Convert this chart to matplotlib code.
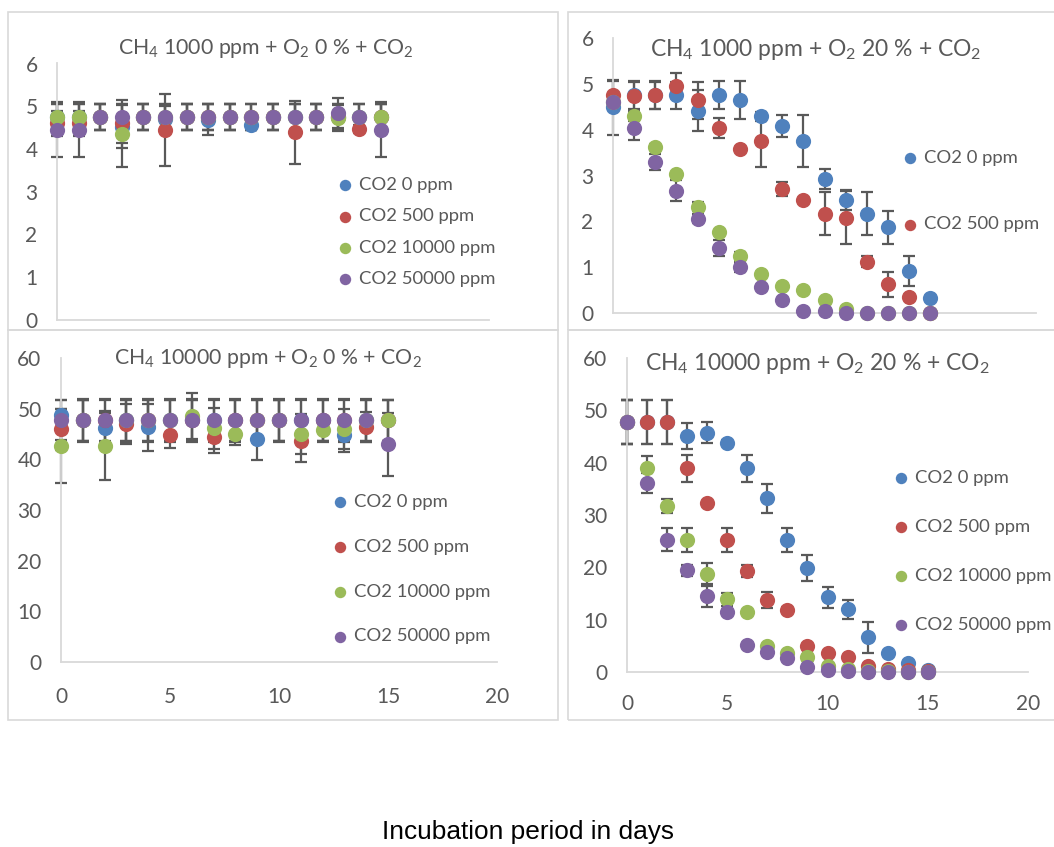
import matplotlib.pyplot as plt
from matplotlib.patches import Rectangle

plt.rcParams['font.family'] = ['Lato', 'DejaVu Sans']
plt.rcParams['mathtext.fontset'] = 'custom'
plt.rcParams['mathtext.rm'] = 'Lato'

days = list(range(16))
labels = ['CO2 0 ppm', 'CO2 500 ppm', 'CO2 10000 ppm', 'CO2 50000 ppm']
colors = ['#4F81BD', '#C0504D', '#9BBB59', '#8064A2']

# CH4 1000 ppm + O2 0 %
a_blue = [4.75, 4.75, 4.75, 4.52, 4.75, 4.70, 4.75, 4.69, 4.75, 4.56, 4.75, 4.75, 4.75, 4.75, 4.75, 4.75]
a_blue_err = [0.3, 0.3, 0.3, 0.5, 0.3, 0.3, 0.3, 0.36, 0.3, 0.1, 0.3, 0.3, 0.3, 0.3, 0.3, 0.3]
a_red = [4.6, 4.6, 4.75, 4.6, 4.75, 4.44, 4.75, 4.75, 4.75, 4.75, 4.75, 4.39, 4.75, 4.75, 4.47, 4.75]
a_red_err = [0.3, 0.3, 0.3, 0.45, 0.3, 0.84, 0.3, 0.3, 0.3, 0.3, 0.3, 0.74, 0.3, 0.3, 0.1, 0.3]
a_green = [4.75, 4.75, 4.75, 4.36, 4.75, 4.75, 4.75, 4.75, 4.75, 4.75, 4.75, 4.75, 4.75, 4.72, 4.75, 4.75]
a_green_err = [0.3, 0.3, 0.3, 0.79, 0.3, 0.3, 0.3, 0.3, 0.3, 0.3, 0.3, 0.3, 0.3, 0.3, 0.3, 0.3]
a_purple = [4.45, 4.45, 4.75, 4.75, 4.75, 4.75, 4.75, 4.75, 4.75, 4.75, 4.75, 4.75, 4.75, 4.85, 4.75, 4.45]
a_purple_err = [0.64, 0.64, 0.31, 0.31, 0.31, 0.31, 0.31, 0.31, 0.31, 0.31, 0.31, 0.31, 0.31, 0.35, 0.31, 0.64]

# CH4 1000 ppm + O2 20 %
b_blue = [4.49, 4.75, 4.75, 4.75, 4.41, 4.75, 4.65, 4.29, 4.08, 3.75, 2.92, 2.46, 2.17, 1.87, 0.91, 0.33]
b_blue_err = [0.6, 0.3, 0.3, 0.3, 0.45, 0.31, 0.42, 0.1, 0.24, 0.57, 0.22, 0.22, 0.46, 0.36, 0.33, 0.05]
b_red = [4.76, 4.74, 4.75, 4.96, 4.64, 4.03, 3.58, 3.75, 2.70, 2.46, 2.17, 2.08, 1.12, 0.63, 0.35, 0.0]
b_red_err = [0.3, 0.33, 0.31, 0.27, 0.41, 0.22, 0.05, 0.56, 0.15, 0.05, 0.46, 0.58, 0.12, 0.27, 0.05, 0.0]
b_green = [4.6, 4.29, 3.63, 3.03, 2.32, 1.77, 1.24, 0.85, 0.58, 0.51, 0.28, 0.09, 0.0, 0.0, 0.0, 0.0]
b_green_err = [0.1, 0.1, 0.05, 0.05, 0.1, 0.05, 0.1, 0.05, 0.03, 0.03, 0.03, 0.02, 0.0, 0.0, 0.0, 0.0]
b_purple = [4.61, 4.03, 3.29, 2.67, 2.06, 1.42, 1.0, 0.57, 0.28, 0.04, 0.04, 0.0, 0.0, 0.0, 0.0, 0.0]
b_purple_err = [0.05, 0.25, 0.17, 0.23, 0.1, 0.18, 0.1, 0.05, 0.03, 0.02, 0.02, 0.0, 0.0, 0.0, 0.0, 0.0]

# CH4 10000 ppm + O2 0 %
c_blue = [48.7, 47.7, 46.1, 47.7, 46.3, 47.7, 47.7, 47.7, 47.7, 44.0, 47.7, 47.7, 47.7, 44.9, 47.7, 47.7]
c_blue_err = [3.0, 4.0, 3.0, 4.0, 4.7, 4.0, 4.0, 4.0, 4.0, 4.2, 4.0, 4.0, 4.0, 3.5, 4.0, 4.0]
c_red = [45.9, 47.7, 47.7, 47.0, 47.7, 44.9, 47.7, 44.5, 47.7, 47.7, 47.7, 43.6, 47.7, 47.7, 46.4, 47.7]
c_red_err = [4.0, 4.0, 4.0, 4.0, 4.0, 2.7, 4.0, 3.2, 4.0, 4.0, 4.0, 4.2, 4.0, 4.0, 3.0, 4.0]
c_green = [42.6, 47.7, 42.7, 47.7, 47.7, 47.7, 48.6, 46.1, 45.0, 47.7, 47.7, 45.0, 45.7, 46.0, 47.7, 47.7]
c_green_err = [7.3, 4.0, 6.8, 4.0, 4.0, 4.0, 4.5, 4.0, 2.1, 4.0, 4.0, 4.0, 2.0, 4.0, 4.0, 4.0]
c_purple = [47.8, 47.7, 47.7, 47.7, 47.7, 47.7, 47.7, 47.7, 47.7, 47.7, 47.7, 47.7, 47.7, 47.7, 47.7, 43.0]
c_purple_err = [4.0, 4.2, 4.2, 4.2, 4.2, 4.2, 4.2, 4.2, 4.2, 4.2, 4.2, 4.2, 4.2, 4.2, 4.2, 6.2]

# CH4 10000 ppm + O2 20 %
d_blue = [47.8, 47.8, 47.8, 45.1, 45.7, 43.8, 38.9, 33.2, 25.3, 19.9, 14.3, 12.0, 6.6, 3.6, 1.8, 0.3]
d_blue_err = [4.2, 4.2, 4.2, 2.5, 2.0, 0.5, 2.5, 2.8, 2.3, 2.5, 2.0, 1.8, 2.9, 0.3, 0.3, 0.2]
d_red = [47.8, 47.8, 47.8, 38.9, 32.2, 25.3, 19.3, 13.8, 11.9, 4.9, 3.6, 2.9, 1.1, 0.6, 0.3, 0.1]
d_red_err = [4.2, 4.2, 4.2, 2.5, 0.5, 2.3, 1.2, 1.5, 0.5, 0.5, 0.3, 0.3, 0.3, 0.2, 0.1, 0.0]
d_green = [47.8, 38.9, 31.7, 25.3, 18.8, 13.9, 11.5, 4.9, 3.6, 2.9, 1.1, 0.6, 0.2, 0.1, 0.0, 0.0]
d_green_err = [4.2, 2.4, 1.3, 2.3, 2.0, 1.2, 0.3, 0.3, 0.3, 0.3, 0.2, 0.1, 0.0, 0.0, 0.0, 0.0]
d_purple = [47.8, 36.1, 25.3, 19.4, 14.5, 11.5, 5.1, 3.8, 2.7, 1.0, 0.3, 0.1, 0.0, 0.0, 0.0, 0.0]
d_purple_err = [4.2, 1.9, 2.2, 1.0, 2.0, 0.5, 0.5, 0.3, 0.3, 0.3, 0.2, 0.1, 0.0, 0.0, 0.0, 0.0]

W, H = 1054, 847
fig = plt.figure(figsize=(W / 100, H / 100), dpi=100)

# panel frames (pixels: left, top, right, bottom)
for l, t, r, b in [(8, 12, 558, 330), (568, 12, 1060, 330), (8, 330, 558, 720), (568, 330, 1060, 720)]:
    fig.patches.append(Rectangle((l / W, 1 - b / H), (r - l) / W, (b - t) / H,
                                 transform=fig.transFigure, fill=False,
                                 edgecolor='#D9D9D9', lw=1.2))

gray = '#595959'


def panel(px, title, title_xy, title_size, series, ymax, ystep, show_x, xpad,
          leg_n, leg_xy, leg_space):
    x0, x1, y0, y1 = px
    ax = fig.add_axes([x0 / W, 1 - y0 / H, (x1 - x0) / W, (y0 - y1) / H])
    for (vals, errs), c, lab in zip(series, colors, labels):
        ax.errorbar(days, vals, yerr=errs, fmt='none', ecolor=gray, elinewidth=1.6,
                    capsize=4, capthick=1.6, clip_on=False, zorder=2)
        ax.scatter(days, vals, s=120, color=c, label=lab, clip_on=False, zorder=3,
                   linewidths=0)
    ax.set_xlim(0, 20)
    ax.set_ylim(0, ymax)
    ax.set_yticks(range(0, ymax + 1, ystep))
    ax.set_xticks(range(0, 21, 5))
    for s in ['top', 'right']:
        ax.spines[s].set_visible(False)
    for s in ['left', 'bottom']:
        ax.spines[s].set_color('#D9D9D9')
        ax.spines[s].set_linewidth(1.3)
    ax.tick_params(length=0, labelsize=15, labelcolor=gray)
    ax.tick_params(axis='y', pad=14)
    ax.tick_params(axis='x', pad=xpad)
    if not show_x:
        ax.set_xticklabels([])
    h, lb = ax.get_legend_handles_labels()
    fig.legend(h[:leg_n], lb[:leg_n], loc='upper left',
               bbox_to_anchor=(leg_xy[0] / W, 1 - leg_xy[1] / H),
               frameon=False, fontsize=13.3, labelcolor=gray,
               handlelength=0.9, handletextpad=0.3, labelspacing=leg_space,
               markerscale=0.75, borderpad=0, borderaxespad=0)
    fig.text(title_xy[0] / W, 1 - title_xy[1] / H, title, ha='center', va='center',
             fontsize=title_size, color=gray)
    return ax


panel((57, 489, 320, 63.5), r'CH$_4$ 1000 ppm + O$_2$ 0 % + CO$_2$', (266, 49), 15.3,
      [(a_blue, a_blue_err), (a_red, a_red_err), (a_green, a_green_err), (a_purple, a_purple_err)],
      6, 1, False, 12, 4, (337, 177), 0.835)
panel((613, 1036, 313, 38), r'CH$_4$ 1000 ppm + O$_2$ 20 % + CO$_2$', (816, 49), 16.5,
      [(b_blue, b_blue_err), (b_red, b_red_err), (b_green, b_green_err), (b_purple, b_purple_err)],
      6, 1, False, 12, 2, (902, 150), 2.73)
panel((61, 497, 662, 358), r'CH$_4$ 10000 ppm + O$_2$ 0 % + CO$_2$', (268, 358), 15.3,
      [(c_blue, c_blue_err), (c_red, c_red_err), (c_green, c_green_err), (c_purple, c_purple_err)],
      60, 10, True, 17.7, 4, (332, 494), 1.56)
panel((627, 1028, 672, 358), r'CH$_4$ 10000 ppm + O$_2$ 20 % + CO$_2$', (817, 363), 16.5,
      [(d_blue, d_blue_err), (d_red, d_red_err), (d_green, d_green_err), (d_purple, d_purple_err)],
      60, 10, True, 16, 4, (893, 470), 1.78)

fig.text(528 / W, 1 - 832 / H, 'Incubation period in days', ha='center', va='center',
         fontsize=18.9, family='Liberation Sans', color='black')

fig.savefig('out.png', dpi=100)
